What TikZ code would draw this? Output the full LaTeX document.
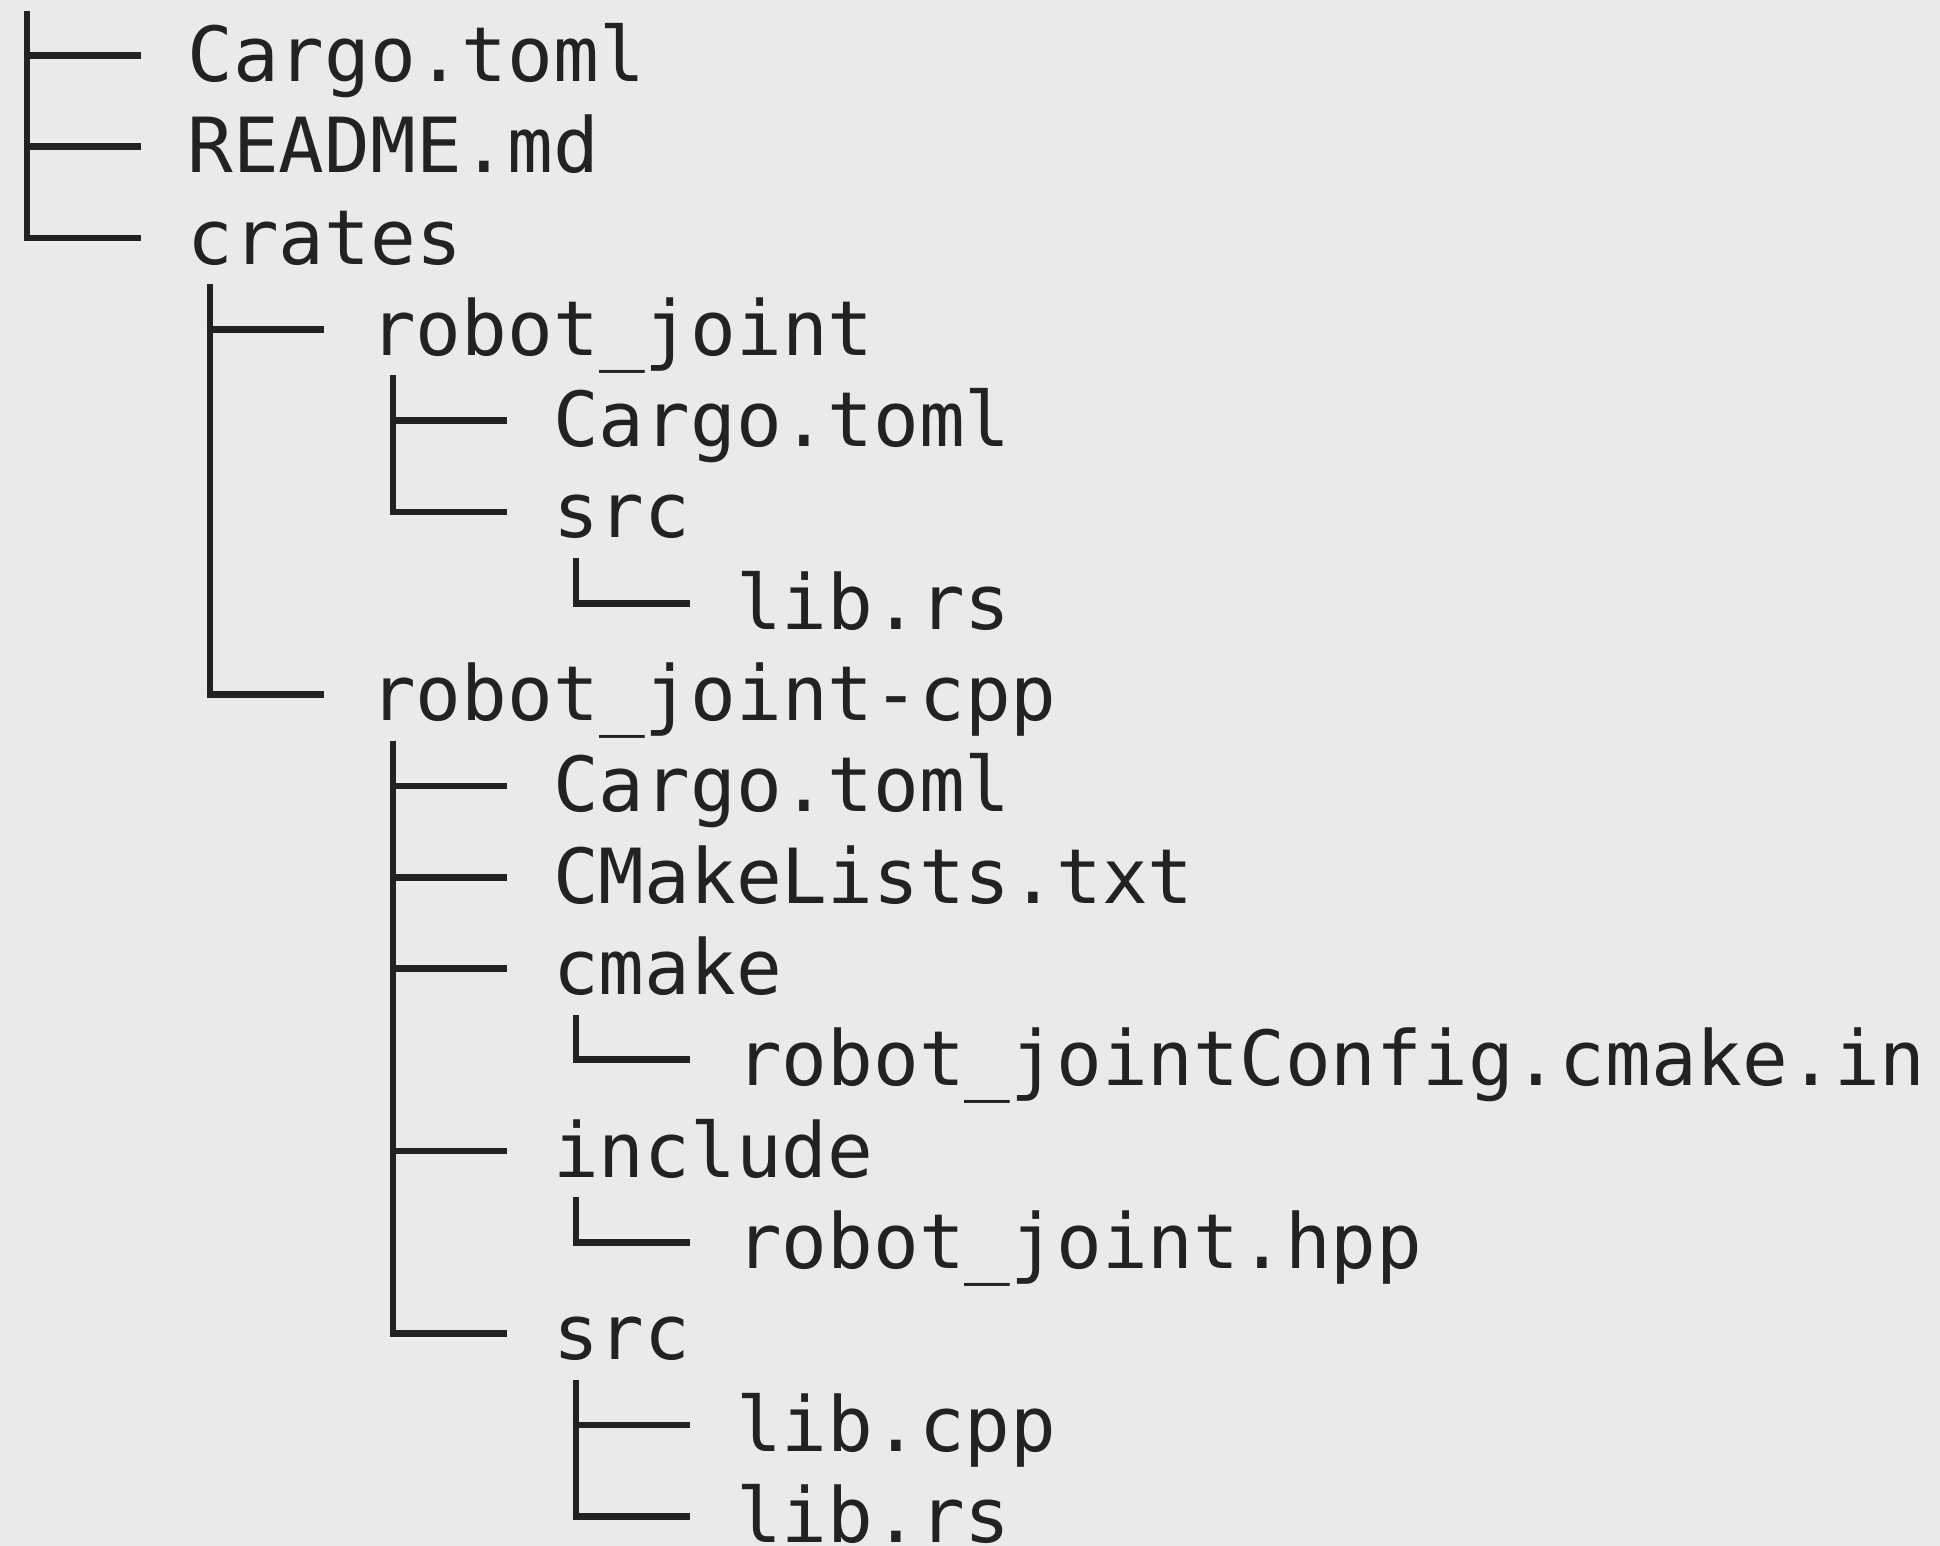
\documentclass[tikz,border=0pt]{standalone}
\usepackage{fontspec}
\newfontfamily\treefont{DejaVu Sans Mono}
\usetikzlibrary{calc}
\definecolor{bg}{HTML}{EAEAEA}
\definecolor{ink}{HTML}{222222}
\def\cw{22.865}
\tikzset{
  entry/.style={font=\treefont\fontsize{38pt}{45.65pt}\selectfont, anchor=base west, inner sep=0pt, text=ink},
  vline/.style={draw=ink, line width=3pt, line cap=butt},
  hline/.style={draw=ink, line width=3.35pt, line cap=butt}
}
\newcommand{\ent}[4]{% name, level, row, text
  \node[entry] (#1) at ({2+(4*#2+4)*\cw}, {-40.75-45.65*#3}) {#4};
  \coordinate (#1-s) at ($(#1.base west)+(0.5*\cw,-10)$);
  \coordinate (#1-e) at ($(#1.base west)+(-\cw,13)$);
}
\newcommand{\br}[2]{% parent, child
  \draw[vline] (#1-s) -- ($(#1-s |- #2-e)+(0,-1.675)$);
  \draw[hline] ($(#1-s |- #2-e)+(-1.5,0)$) -- (#2-e);
}
\begin{document}
\begin{tikzpicture}[x=1pt,y=1pt]
\fill[bg] (0,0) rectangle (970,-773);
\useasboundingbox (0,0) rectangle (970,-773);
\coordinate (root-s) at ({2+0.5*\cw},-5.35);
\ent{cargo}{0}{0}{Cargo.toml}
\ent{readme}{0}{1}{README.md}
\ent{crates}{0}{2}{crates}
\ent{rj}{1}{3}{robot\_joint}
\ent{rjcargo}{2}{4}{Cargo.toml}
\ent{rjsrc}{2}{5}{src}
\ent{rjlib}{3}{6}{lib.rs}
\ent{cpp}{1}{7}{robot\_joint-cpp}
\ent{cppcargo}{2}{8}{Cargo.toml}
\ent{cmakelists}{2}{9}{CMakeLists.txt}
\ent{cmake}{2}{10}{cmake}
\ent{config}{3}{11}{robot\_jointConfig.cmake.in}
\ent{include}{2}{12}{include}
\ent{hpp}{3}{13}{robot\_joint.hpp}
\ent{cppsrc}{2}{14}{src}
\ent{libcpp}{3}{15}{lib.cpp}
\ent{librs}{3}{16}{lib.rs}
\br{root}{crates}
\br{root}{readme}
\br{root}{cargo}
\br{crates}{cpp}
\br{crates}{rj}
\br{rj}{rjsrc}
\br{rj}{rjcargo}
\br{rjsrc}{rjlib}
\br{cpp}{cppsrc}
\br{cpp}{include}
\br{cpp}{cmake}
\br{cpp}{cmakelists}
\br{cpp}{cppcargo}
\br{cmake}{config}
\br{include}{hpp}
\br{cppsrc}{librs}
\br{cppsrc}{libcpp}
\end{tikzpicture}
\end{document}
